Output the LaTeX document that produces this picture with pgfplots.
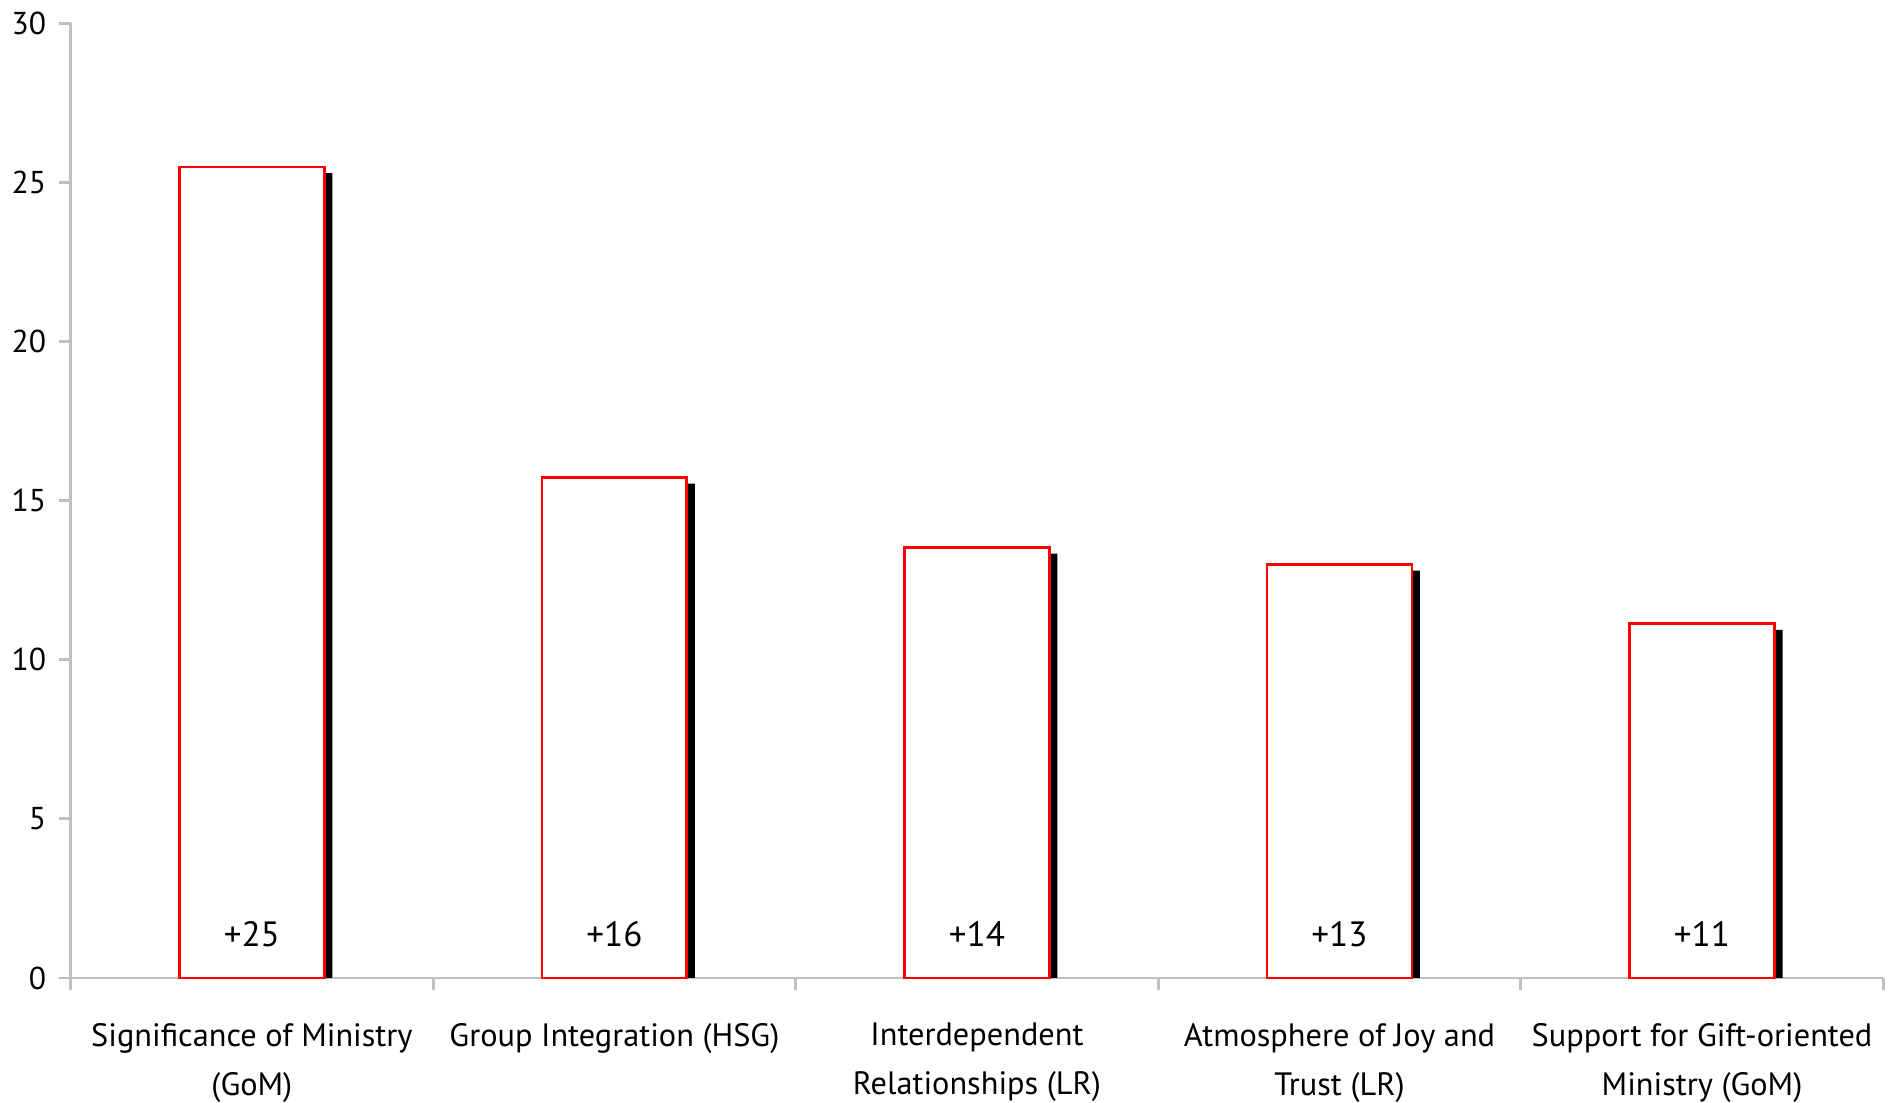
\documentclass[border=0pt]{standalone}
\usepackage{pgfplots}
\pgfplotsset{compat=1.18}
\usepackage{fontspec}
\setmainfont{PT Sans}
\definecolor{axisgray}{HTML}{BFBFBF}
\begin{document}
\begin{tikzpicture}
\begin{axis}[
  scale only axis,
  width=181.3mm, height=95.5mm,
  xmin=-0.5, xmax=4.5, ymin=0, ymax=30,
  axis x line=bottom, axis y line=left,
  axis line style={axisgray, line width=0.8pt, -},
  tick style={axisgray, line width=0.8pt},
  tick align=outside,
  major tick length=1.2mm,
  ytick={0,5,...,30},
  xtick={-0.5,0.5,1.5,2.5,3.5,4.5},
  xticklabels={},
  extra x ticks={0,1,2,3,4},
  extra x tick labels={{Significance of Ministry\\(GoM)},{Group Integration (HSG)},{Interdependent\\Relationships (LR)},{Atmosphere of Joy and\\Trust (LR)},{Support for Gift-oriented\\Ministry (GoM)}},
  extra x tick style={major tick length=0pt, grid=none},
  xticklabel style={align=center, font=\fontsize{9.2}{14}\selectfont, anchor=north, inner ysep=0pt, yshift=-4.45mm},
  yticklabel style={font=\fontsize{9}{11}\selectfont, xshift=0mm},
  /pgf/number format/assume math mode=true,
  clip=false,
]
% shadow bars
\addplot[ybar, bar width=14.5mm, bar shift=0.8mm, draw=none, fill=black]
  coordinates {(0,25.29) (1,15.53) (2,13.33) (3,12.80) (4,10.94)};
% main bars
\addplot[ybar, bar width=14.5mm, bar shift=0pt, draw=red, line width=0.8pt, fill=white]
  coordinates {(0,25.48) (1,15.72) (2,13.52) (3,12.99) (4,11.13)};
% value labels
\addplot[draw=none, mark=none, nodes near coords, point meta=explicit symbolic,
  every node near coord/.style={anchor=center, font=\fontsize{10}{12}\selectfont, text=black}]
  table[meta=lab] {
x y lab
0 1.37 +25
1 1.37 +16
2 1.37 +14
3 1.37 +13
4 1.37 +11
};
\end{axis}
\end{tikzpicture}
\end{document}
